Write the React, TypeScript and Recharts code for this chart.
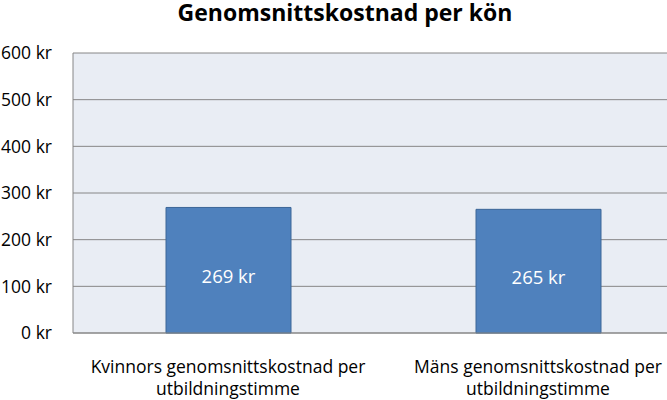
import React from 'react';
import { BarChart, Bar, XAxis, YAxis, CartesianGrid, LabelList } from 'recharts';

const categories = ['Kvinnor', 'Män'];
const categoryLabels = [
  ['Kvinnors genomsnittskostnad per', 'utbildningstimme'],
  ['Mäns genomsnittskostnad per', 'utbildningstimme'],
];
const values = [269, 265];
const yTicks = [0, 100, 200, 300, 400, 500, 600];
const title = 'Genomsnittskostnad per kön';

const data = categories.map((c, i) => ({ name: c, value: values[i] }));

const FONT = '"Open Sans", sans-serif';

const XTick = (props: any) => {
  const { x, y, payload } = props;
  const idx = categories.indexOf(payload.value);
  const lines = categoryLabels[idx] || [payload.value];
  return (
    <g>
      {lines.map((l: string, i: number) => (
        <text key={i} x={x} y={y + 40 + i * 22} textAnchor="middle" fontFamily={FONT} fontSize={17.5} fill="#000">
          {l}
        </text>
      ))}
    </g>
  );
};

const BarValue = (props: any) => {
  const { x, y, width, height, value } = props;
  return (
    <text x={x + width / 2} y={y + height / 2 + 13} textAnchor="middle" fontFamily={FONT} fontSize={18.5} fill="#fff">
      {`${value} kr`}
    </text>
  );
};

export default function App() {
  return (
    <div style={{ position: 'absolute', left: 0, top: 0, width: 667, height: 400, overflow: 'hidden', background: '#fff' }}>
      <BarChart width={700} height={400} data={data} margin={{ top: 53, right: 7, bottom: 0, left: 0 }} barSize={125}>
        <CartesianGrid vertical={false} stroke="#868686" fill="#E9EDF4" fillOpacity={1} />
        <XAxis dataKey="name" height={67} axisLine={{ stroke: '#868686' }} tickLine={false} tickSize={0} tickMargin={0} tick={<XTick />} interval={0} />
        <YAxis
          width={73}
          domain={[0, 600]}
          ticks={yTicks}
          tickFormatter={(v: number) => `${v} kr`}
          axisLine={{ stroke: '#868686' }}
          tickLine={false}
          tickSize={0}
          tickMargin={21}
          tick={{ fill: '#000', fontSize: 17.5, fontFamily: FONT }}
          interval={0}
        />
        <Bar dataKey="value" fill="#4F81BD" stroke="#3C6697" strokeWidth={1} isAnimationActive={false}>
          <LabelList dataKey="value" content={<BarValue />} />
        </Bar>
      </BarChart>
      <svg width={667} height={44} style={{ position: 'absolute', left: 0, top: 0 }}>
        <text x={345} y={21} textAnchor="middle" fontFamily={FONT} fontWeight="bold" fontSize={23} fill="#000">
          {title}
        </text>
      </svg>
    </div>
  );
}
